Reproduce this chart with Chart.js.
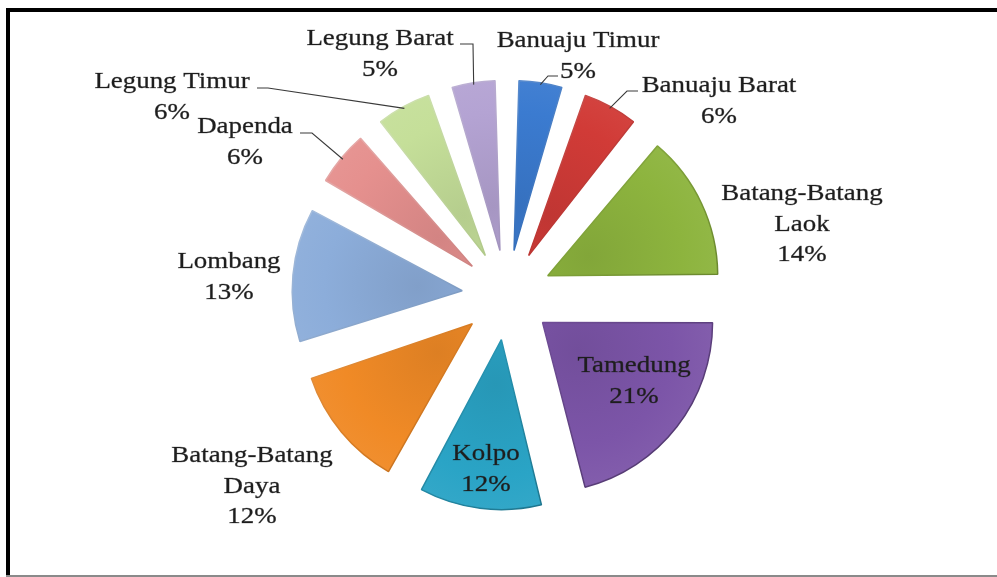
<!DOCTYPE html>
<html>
<head>
<meta charset="utf-8">
<script src="https://cdn.jsdelivr.net/npm/chart.js@4/dist/chart.umd.min.js"></script>
<style>
  html, body { margin: 0; padding: 0; background: #fff; }
  #wrap { width: 997px; height: 577px; }
</style>
</head>
<body>
<div id="wrap"><canvas id="c" width="997" height="577"></canvas></div>
<script>
// ---- data ----
const categories = ['Banuaju Timur', 'Banuaju Barat', 'Batang-Batang Laok', 'Tamedung', 'Kolpo',
                    'Batang-Batang Daya', 'Lombang', 'Dapenda', 'Legung Timur', 'Legung Barat'];
const values = [5, 6, 14, 21, 12, 12, 13, 6, 6, 5];
const nameLines = [['Banuaju Timur'], ['Banuaju Barat'], ['Batang-Batang', 'Laok'], ['Tamedung'], ['Kolpo'],
                   ['Batang-Batang', 'Daya'], ['Lombang'], ['Dapenda'], ['Legung Timur'], ['Legung Barat']];
const colors = ['#3b7bd0', '#d13b37', '#8db43e', '#7c55a8', '#2aa4c6',
                '#f08a26', '#8cadda', '#e5908e', '#c5df99', '#b4a3d3'];

// ---- layout (not data) ----
const RADIUS = 170;
const EXPLODE = 45;            // visual explosion distance in px
const OFFSET_DIV = 4;          // Chart.js v4 arc draws options.offset / 4
// label anchor (center x, first baseline) relative to pie centre
const labelPos = [[71, -248], [212, -203], [295, -95], [127, 77], [-21, 165],
                  [-255, 167], [-278, -27], [-262, -162], [-335, -207], [-127, -250]];
// leader lines: [startDx, startDy, elbowDx, elbowDy] relative to pie centre, or null
const leaders = [[51, -219, 41, -219], [131, -204, 120, -204], null, null, null,
                 null, null, [-207, -162, -195, -162], [-250, -207, -239, -207], [-47, -251, -34, -251]];

function shade(hex, f) {
  const n = parseInt(hex.slice(1), 16);
  let r = (n >> 16) & 255, g = (n >> 8) & 255, b = n & 255;
  const t = f < 0 ? 0 : 255, p = Math.abs(f);
  r = Math.round((t - r) * p + r); g = Math.round((t - g) * p + g); b = Math.round((t - b) * p + b);
  return 'rgb(' + r + ',' + g + ',' + b + ')';
}

const total = values.reduce((a, b) => a + b, 0);
function midAngle(i) {
  let s = 0;
  for (let k = 0; k < i; k++) s += values[k];
  return -Math.PI / 2 + (s + values[i] / 2) / total * Math.PI * 2;
}

function fillGradient(context) {
  const chart = context.chart, ca = chart.chartArea;
  const i = context.dataIndex;
  if (!ca || i === undefined) return colors[i || 0];
  const cx = (ca.left + ca.right) / 2, cy = (ca.top + ca.bottom) / 2;
  const a = midAngle(i);
  const x = cx + Math.cos(a) * EXPLODE, y = cy + Math.sin(a) * EXPLODE;
  const g = chart.ctx.createRadialGradient(x, y, 0, x, y, RADIUS);
  const c = colors[i];
  g.addColorStop(0, shade(c, -0.08));
  g.addColorStop(0.55, c);
  g.addColorStop(0.86, shade(c, 0.06));
  g.addColorStop(0.94, shade(c, 0.16));
  g.addColorStop(1, shade(c, -0.32));
  return g;
}
function borderGradient(context) {
  const chart = context.chart, ca = chart.chartArea;
  const i = context.dataIndex;
  if (!ca || i === undefined) return colors[i || 0];
  const cx = (ca.left + ca.right) / 2, cy = (ca.top + ca.bottom) / 2;
  const g = chart.ctx.createLinearGradient(cx - RADIUS, cy - RADIUS, cx + RADIUS, cy + RADIUS);
  g.addColorStop(0, shade(colors[i], 0.35));
  g.addColorStop(0.5, shade(colors[i], -0.1));
  g.addColorStop(1, shade(colors[i], -0.4));
  return g;
}

const framePlugin = {
  id: 'frame',
  beforeDraw(chart) {
    const ctx = chart.ctx;
    ctx.save();
    ctx.fillStyle = '#fff';
    ctx.fillRect(0, 0, chart.width, chart.height);
    ctx.fillStyle = '#000';
    ctx.fillRect(6, 8, chart.width - 6, 4);
    ctx.fillRect(6, 8, 4, chart.height - 8);
    ctx.fillStyle = '#8a8a8a';
    ctx.fillRect(6, chart.height - 2, chart.width - 6, 2);
    ctx.restore();
  }
};

// keep every exploded slice the same radius (Chart.js enlarges narrow offset slices)
const radiusFix = {
  id: 'radiusFix',
  beforeDatasetsDraw(chart) {
    const meta = chart.getDatasetMeta(0);
    meta.data.forEach(arc => {
      const eff = (arc.options.offset || 0) / OFFSET_DIV;
      const fix = 1 - Math.sin(Math.min(Math.PI, arc.circumference || 0));
      arc.outerRadius = RADIUS - eff * fix;
    });
  }
};

const labelPlugin = {
  id: 'sliceLabels',
  afterDatasetsDraw(chart) {
    const ctx = chart.ctx;
    const meta = chart.getDatasetMeta(0);
    ctx.save();
    // leader lines
    ctx.strokeStyle = '#3a3a3a';
    ctx.lineWidth = 1.1;
    meta.data.forEach((arc, i) => {
      const L = leaders[i];
      if (!L) return;
      const cx = arc.x, cy = arc.y;
      const a = (arc.startAngle + arc.endAngle) / 2;
      const ex = cx + Math.cos(a) * (EXPLODE + RADIUS - 2);
      const ey = cy + Math.sin(a) * (EXPLODE + RADIUS - 2);
      ctx.beginPath();
      ctx.moveTo(cx + L[0], cy + L[1]);
      ctx.lineTo(cx + L[2], cy + L[3]);
      ctx.lineTo(ex, ey);
      ctx.stroke();
    });
    // texts
    ctx.fillStyle = '#1e1e1e';
    ctx.strokeStyle = 'rgba(30,30,30,0.55)';
    ctx.lineWidth = 0.5;
    ctx.font = '23px "Liberation Serif", "Times New Roman", serif';
    ctx.textAlign = 'center';
    ctx.textBaseline = 'alphabetic';
    meta.data.forEach((arc, i) => {
      const lines = nameLines[i].concat([values[i] + '%']);
      const x = arc.x + labelPos[i][0];
      let y = arc.y + labelPos[i][1];
      lines.forEach(t => {
        ctx.save();
        ctx.translate(x, y);
        ctx.scale(1.17, 1);
        ctx.fillText(t, 0, 0);
        ctx.strokeText(t, 0, 0);
        ctx.restore();
        y += 30.5;
      });
    });
    ctx.restore();
  }
};

new Chart(document.getElementById('c'), {
  type: 'pie',
  data: {
    labels: categories,
    datasets: [{
      data: values,
      backgroundColor: fillGradient,
      borderColor: borderGradient,
      borderWidth: 1.5,
      offset: EXPLODE * OFFSET_DIV,
      hoverOffset: 0
    }]
  },
  options: {
    responsive: false,
    animation: false,
    events: [],
    radius: RADIUS,
    layout: { padding: { left: 117, right: 100, top: 63, bottom: 50 } },
    plugins: { legend: { display: false }, tooltip: { enabled: false } }
  },
  plugins: [framePlugin, radiusFix, labelPlugin]
});
</script>
</body>
</html>
